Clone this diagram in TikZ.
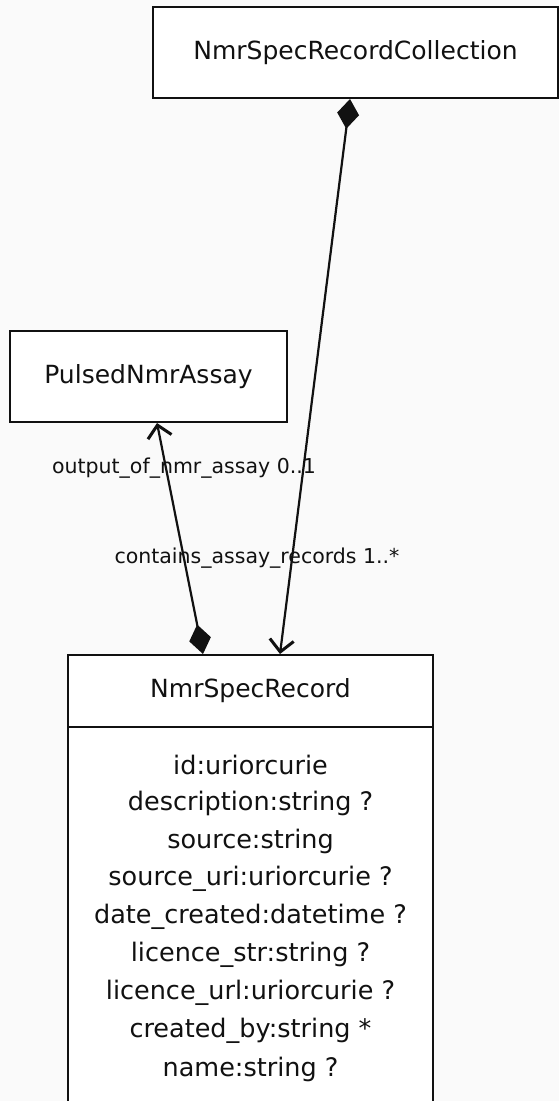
\documentclass[tikz,border=0pt]{standalone}
\usepackage{fontspec}
\setmainfont{DejaVu Sans}
\usetikzlibrary{arrows.meta}
\definecolor{canvas}{HTML}{FAFAFA}
\definecolor{ink}{HTML}{111111}
\tikzset{
  classbox/.style={draw=ink, fill=white, line width=2pt, inner sep=0pt},
  boxline/.style={draw=ink, line width=2pt},
  title/.style={font=\fontsize{25}{29}\selectfont, text=ink},
  attr/.style={font=\fontsize{25.5}{29}\selectfont, text=ink},
  rolelabel/.style={font=\fontsize{20.5}{24}\selectfont, text=ink, inner sep=1pt},
  link/.style={draw=ink, line width=2.2pt},
  owner/.tip={Diamond[length=30pt,width=22pt]},
  target/.tip={Straight Barb[length=12pt,width=24pt,line width=3pt]}
}
\begin{document}
\begin{tikzpicture}[x=1pt,y=-1pt]
  \useasboundingbox (0,0) rectangle (559,1101);
  \clip (0,0) rectangle (559,1101);
  \fill[canvas] (0,0) rectangle (559,1101);

  % class boxes
  \node[classbox, minimum width=405pt, minimum height=91pt, title] (coll) at (355.5,52.5) {NmrSpecRecordCollection};
  \node[classbox, minimum width=277pt, minimum height=91pt, title] (assay) at (148.5,376.5) {PulsedNmrAssay};
  % attribute compartment runs past the lower edge
  \node[fill=white, inner sep=0pt, minimum width=365pt, minimum height=400pt, anchor=north] (attrs) at (250.5,727) {};
  \draw[boxline] (attrs.north west) -- (attrs.south west);
  \draw[boxline] (attrs.north east) -- (attrs.south east);
  \node[classbox, minimum width=365pt, minimum height=72pt, title] (rec) at (250.5,691) {NmrSpecRecord};

  % attribute rows
  \foreach \t [count=\i] in {id:uriorcurie, description:string ?, source:string,
      source\_uri:uriorcurie ?, date\_created:datetime ?, licence\_str:string ?,
      licence\_url:uriorcurie ?, created\_by:string *, name:string ?}
    \node[attr] (a\i) at (250.5, 727+38*\i) {\t};

  % associations
  \draw[link, owner-target] ([xshift=-5.5pt]coll.south) -- ([xshift=29.5pt]rec.north);
  \draw[link, owner-target] ([xshift=-47.5pt]rec.north) -- ([xshift=8.5pt]assay.south);

  % role labels
  \node[rolelabel] (l1) at (184,468) {output\_of\_nmr\_assay 0..1};
  \node[rolelabel] (l2) at (257,558) {contains\_assay\_records 1..*};
\end{tikzpicture}
\end{document}
